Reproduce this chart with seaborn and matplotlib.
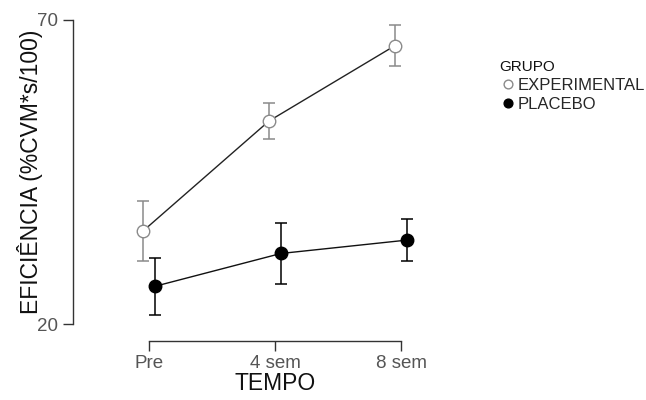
import numpy as np
import pandas as pd
import seaborn as sns
import matplotlib.pyplot as plt

tempo = ["Pre", "4 sem", "8 sem"]
grupos = ["EXPERIMENTAL", "PLACEBO"]
media_exp = [35.3, 53.4, 65.8]
erro_exp = [5.0, 2.9, 3.3]
media_pla = [26.2, 31.6, 33.8]
erro_pla = [4.7, 5.0, 3.5]

df = pd.DataFrame({
    "TEMPO": tempo * 2,
    "GRUPO": [grupos[0]] * 3 + [grupos[1]] * 3,
    "media": media_exp + media_pla,
    "erro": erro_exp + erro_pla,
})
df["pos"] = df["TEMPO"].map({t: i for i, t in enumerate(tempo)})
df.loc[df["GRUPO"] == grupos[0], "pos"] -= 0.047
df.loc[df["GRUPO"] == grupos[1], "pos"] += 0.047

sns.set_style("white")
plt.rcParams["font.family"] = ["Liberation Sans", "DejaVu Sans"]

fig = plt.figure(figsize=(6.46, 4.0), dpi=100)
ax = fig.add_axes([73 / 646, 1 - 324 / 400, 367 / 646, 304 / 400])

estilos = {
    grupos[0]: dict(mfc="white", mec="#8a8a8a", ecolor="#8a8a8a"),
    grupos[1]: dict(mfc="black", mec="black", ecolor="black"),
}
for g in grupos:
    d = df[df["GRUPO"] == g]
    s = estilos[g]
    ax.errorbar(d["pos"], d["media"], yerr=d["erro"], fmt="none",
                ecolor=s["ecolor"], elinewidth=1.1, capsize=4.5,
                capthick=1.1, zorder=2)

sns.lineplot(data=df, x="pos", y="media", hue="GRUPO",
             palette={grupos[0]: "#222222", grupos[1]: "#111111"},
             lw=1.0, legend=False, ax=ax, zorder=3, sort=True)
for g in grupos:
    d = df[df["GRUPO"] == g]
    s = estilos[g]
    ax.plot(d["pos"], d["media"], "o", ms=9, mfc=s["mfc"], mec=s["mec"],
            mew=1.0, zorder=4, label=g)

ax.set_xlim(-0.603, 2.309)
ax.set_ylim(20, 70)
ax.set_xticks(range(len(tempo)))
ax.set_xticklabels(tempo)
ax.set_yticks([20, 70])
ax.tick_params(axis="both", colors="#333333", labelcolor="#555555",
               labelsize=13.5, length=7.5, width=1, direction="out",
               bottom=True, left=True, pad=3)

for sp in ["top", "right"]:
    ax.spines[sp].set_visible(False)
ax.spines["left"].set_bounds(20, 70)
ax.spines["bottom"].set_bounds(0, 2)
ax.spines["bottom"].set_position(("outward", 12))
for sp in ["left", "bottom"]:
    ax.spines[sp].set_color("#333333")
    ax.spines[sp].set_linewidth(1.0)

# label do eixo x centrado na linha do eixo (Pre..8 sem), nao no axes
ax.set_xlabel("TEMPO", fontsize=16.5, color="#111111", labelpad=0,
              x=(275 - 73) / 367)
ax.set_ylabel("EFICIÊNCIA (%CVM*s/100)", fontsize=16.5, color="#111111",
              labelpad=-4)

leg = ax.legend(title="GRUPO", loc="upper left",
                bbox_to_anchor=(493 / 646, 1 - 53 / 400),
                bbox_transform=fig.transFigure, frameon=False,
                fontsize=12, title_fontsize=11, handletextpad=0.1,
                handlelength=1.0, labelspacing=0.25, borderaxespad=0,
                markerscale=0.7)
leg._legend_box.align = "left"
leg.get_title().set_color("#111111")

fig.savefig("out.png", dpi=100)
